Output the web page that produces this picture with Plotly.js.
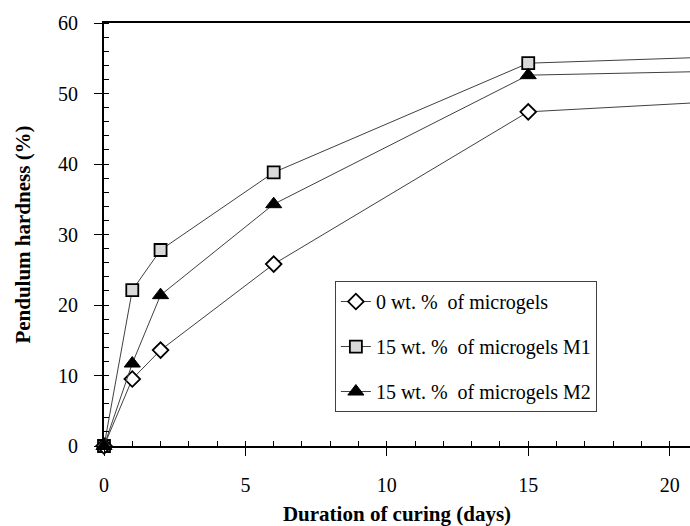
<!DOCTYPE html>
<html>
<head>
<meta charset="utf-8">
<script src="https://cdn.plot.ly/plotly-3.0.1.min.js"></script>
</head>
<body style="margin:0;padding:0;background:#fff">
<div id="chart"></div>
<script>
var days = [0, 1, 2, 6, 15, 21];
var hardness0 = [0, 9.5, 13.6, 25.8, 47.4, 48.7];
var hardnessM1 = [0, 22.1, 27.8, 38.8, 54.3, 55.1];
var hardnessM2 = [0, 11.7, 21.4, 34.3, 52.6, 53.1];
var seriesNames = ['0 wt. %  of microgels', '15 wt. %  of microgels M1', '15 wt. %  of microgels M2'];
var xTicks = [0, 5, 10, 15, 20];
var yTicks = [0, 10, 20, 30, 40, 50, 60];

var lineStyle = {color: '#404040', width: 1};
var traces = [
  {x: days, y: hardnessM1, name: seriesNames[1], mode: 'lines+markers', legendgroup: 'b', legendrank: 2,
   line: lineStyle, cliponaxis: false,
   marker: {symbol: 'square', size: 12, color: '#d9d9d9', line: {color: '#000', width: 1.8}}},
  {x: days, y: hardness0, name: seriesNames[0], mode: 'lines+markers', legendgroup: 'a', legendrank: 1,
   line: lineStyle, cliponaxis: false,
   marker: {symbol: 'diamond', size: 12, color: '#fff', line: {color: '#000', width: 1.8}}},
  {x: days, y: hardnessM2, name: seriesNames[2], mode: 'lines+markers', legendgroup: 'c', legendrank: 3,
   line: lineStyle, cliponaxis: false,
   marker: {symbol: 'triangle-up', size: 14, color: '#000', line: {color: '#000', width: 1}}}
];

var FAM = 'Liberation Serif, serif';
function F(size) { return {family: FAM, size: size, color: '#000'}; }
var layout = {
  width: 690, height: 526,
  margin: {l: 104, r: 0, t: 23, b: 80},
  paper_bgcolor: '#fff', plot_bgcolor: '#fff',
  font: F(20),
  showlegend: true,
  legend: {
    x: 0.394, y: 0.39, xanchor: 'left', yanchor: 'top',
    bgcolor: '#fff', bordercolor: '#404040', borderwidth: 1,
    font: F(20),
    traceorder: 'grouped', tracegroupgap: 16
  },
  xaxis: {
    range: [0, 20.72], tickvals: xTicks, ticktext: xTicks.map(String),
    showgrid: false, zeroline: false,
    showline: true, linecolor: '#000', linewidth: 2, mirror: true,
    ticks: 'outside', ticklen: 8, tickwidth: 1, tickcolor: '#000',
    ticklabelstandoff: 12,
    minor: {dtick: 1, ticks: 'inside', ticklen: 5, tickwidth: 1, tickcolor: '#000', showgrid: false},
    tickfont: F(20),
    title: {text: '<b>Duration of curing (days)</b>', standoff: 12, font: F(21)},
    automargin: false
  },
  yaxis: {
    range: [0, 60], tickvals: yTicks, ticktext: yTicks.map(String),
    showgrid: false, zeroline: false,
    showline: true, linecolor: '#000', linewidth: 2,
    ticks: 'outside', ticklen: 8, tickwidth: 1, tickcolor: '#000',
    ticklabelstandoff: 12,
    minor: {dtick: 2, ticks: 'inside', ticklen: 5, tickwidth: 1, tickcolor: '#000', showgrid: false},
    tickfont: F(20),
    title: {text: '<b>Pendulum hardness (%)</b>', standoff: 22, font: F(21)},
    automargin: false
  }
};
function draw() { Plotly.newPlot('chart', traces, layout, {displayModeBar: false}); }
if (document.fonts && document.fonts.load) {
  Promise.all([
    document.fonts.load('20px "Liberation Serif"'),
    document.fonts.load('bold 21px "Liberation Serif"')
  ]).then(draw, draw);
} else {
  draw();
}
</script>
</body>
</html>
